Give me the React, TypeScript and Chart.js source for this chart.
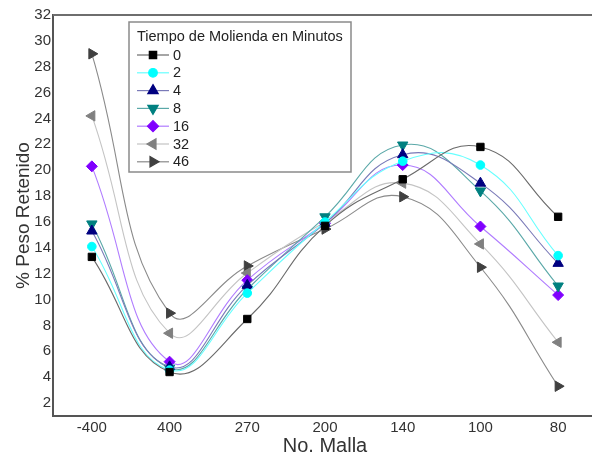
import { useEffect, useRef } from 'react';
import { Chart, registerables } from 'chart.js';
import { drawPoint } from 'chart.js/helpers';

Chart.register(...registerables);

const categories = ['-400', '400', '270', '200', '140', '100', '80'];
const yTicks = [2, 4, 6, 8, 10, 12, 14, 16, 18, 20, 22, 24, 26, 28, 30, 32];
const seriesNames = ['0', '2', '4', '8', '16', '32', '46'];
const s0 = [13.3, 4.4, 8.5, 15.7, 19.3, 21.8, 16.4];
const s2 = [14.1, 4.55, 10.5, 16.0, 20.7, 20.4, 13.4];
const s4 = [15.3, 4.8, 11.1, 15.9, 21.2, 19.0, 12.8];
const s8 = [15.85, 4.7, 10.8, 16.4, 21.95, 18.4, 11.05];
const s16 = [20.3, 5.2, 11.5, 15.9, 20.4, 15.65, 10.35];
const s32 = [24.2, 7.4, 12.05, 16.0, 19.0, 14.3, 6.7];
const s46 = [29.0, 8.95, 12.6, 15.45, 17.95, 12.5, 3.3];
const legendTitle = 'Tiempo de Molienda en Minutos';
const xTitle = 'No. Malla';
const yTitle = '% Peso Retenido';

const seriesValues = [s0, s2, s4, s8, s16, s32, s46];
const styles = [
  { marker: '#000000', line: '#6a6a6a', pointStyle: 'rect', rotation: 0, radius: 5.2 },
  { marker: '#00ffff', line: '#66ffff', pointStyle: 'circle', rotation: 0, radius: 4.3 },
  { marker: '#000080', line: '#7a7ab8', pointStyle: 'triangle', rotation: 0, radius: 6 },
  { marker: '#008080', line: '#5aa8a8', pointStyle: 'triangle', rotation: 180, radius: 6 },
  { marker: '#8000ff', line: '#b07cff', pointStyle: 'rectRot', rotation: 0, radius: 5.5 },
  { marker: '#808080', line: '#c4c4c4', pointStyle: 'triangle', rotation: 270, radius: 6 },
  { marker: '#404040', line: '#8a8a8a', pointStyle: 'triangle', rotation: 90, radius: 6 },
];

const FONT = 'Arial, "Liberation Sans", sans-serif';

const framePlugin = {
  id: 'frameAndLegend',
  afterDatasetsDraw(chart: any) {
    const ctx = chart.ctx;
    const a = chart.chartArea;
    ctx.save();
    ctx.strokeStyle = '#6e6e6e';
    ctx.lineWidth = 2;
    ctx.beginPath();
    ctx.moveTo(a.left, a.top);
    ctx.lineTo(a.right, a.top);
    ctx.stroke();

    // legend box
    const bx = 129, by = 22, bw = 222, bh = 150;
    ctx.fillStyle = '#ffffff';
    ctx.fillRect(bx, by, bw, bh);
    ctx.strokeStyle = '#8a8a8a';
    ctx.lineWidth = 1.5;
    ctx.strokeRect(bx, by, bw, bh);
    ctx.fillStyle = '#222';
    ctx.font = '14.5px ' + FONT;
    ctx.textBaseline = 'middle';
    ctx.textAlign = 'left';
    ctx.fillText(legendTitle, 137, 37);
    chart.data.datasets.forEach((ds: any, i: number) => {
      const y = 55 + i * 17.8;
      ctx.strokeStyle = ds.borderColor;
      ctx.lineWidth = 1.2;
      ctx.beginPath();
      ctx.moveTo(137, y);
      ctx.lineTo(169, y);
      ctx.stroke();
      ctx.fillStyle = ds.pointBackgroundColor;
      ctx.strokeStyle = ds.pointBorderColor;
      drawPoint(ctx, { pointStyle: ds.pointStyle, rotation: ds.pointRotation, radius: ds.pointRadius, borderWidth: 1 }, 153, y);
      ctx.fillStyle = '#222';
      ctx.fillText(ds.label, 173, y + 0.5);
    });
    ctx.restore();
  },
};

export default function App() {
  const ref = useRef<HTMLCanvasElement>(null);
  useEffect(() => {
    if (!ref.current) return;
    const chart = new Chart(ref.current, {
      type: 'line',
      data: {
        datasets: seriesValues.map((vals, i) => ({
          label: seriesNames[i],
          data: vals.map((v, j) => ({ x: j, y: v })),
          borderColor: styles[i].line,
          borderWidth: 1.1,
          tension: 0.45,
          pointStyle: styles[i].pointStyle as any,
          pointRotation: styles[i].rotation,
          pointRadius: styles[i].radius,
          pointBackgroundColor: styles[i].marker,
          pointBorderColor: styles[i].marker,
          pointBorderWidth: 1,
          fill: false,
        })),
      },
      options: {
        animation: false,
        responsive: false,
        maintainAspectRatio: false,
        layout: { padding: { top: 15, right: 0, left: 0, bottom: 0 } },
        plugins: { legend: { display: false }, tooltip: { enabled: false } },
        scales: {
          x: {
            type: 'linear',
            min: -0.5,
            max: 6.5,
            afterBuildTicks: (axis: any) => {
              axis.ticks = categories.map((_, i) => ({ value: i }));
            },
            afterFit: (s: any) => { s.height = 43; },
            grid: { display: false, drawTicks: false },
            border: { display: true, color: '#555', width: 2 },
            ticks: {
              padding: 3,
              color: '#333',
              font: { family: FONT, size: 15 },
              callback: (v: any) => categories[Math.round(Number(v))] ?? '',
              maxRotation: 0,
            },
            title: {
              display: true,
              text: xTitle,
              color: '#333',
              font: { family: FONT, size: 20 },
              padding: { top: 0, bottom: 1 },
            },
          },
          y: {
            type: 'linear',
            min: 1,
            max: 32,
            afterBuildTicks: (axis: any) => {
              axis.ticks = yTicks.map((v) => ({ value: v }));
            },
            afterFit: (s: any) => { s.width = 53; },
            grid: { display: false, drawTicks: false },
            border: { display: true, color: '#555', width: 2 },
            ticks: {
              padding: 2,
              color: '#333',
              font: { family: FONT, size: 15 },
            },
            title: {
              display: true,
              text: yTitle,
              color: '#333',
              font: { family: FONT, size: 19 },
              padding: { top: 12, bottom: 0 },
            },
          },
        },
      },
      plugins: [framePlugin],
    });
    return () => chart.destroy();
  }, []);
  return (
    <div style={{ position: 'fixed', left: 0, top: 0, width: 592, height: 459, overflow: 'hidden', background: '#fff' }}>
      <canvas ref={ref} width={604} height={459} style={{ display: 'block', width: 604, height: 459 }} />
    </div>
  );
}
